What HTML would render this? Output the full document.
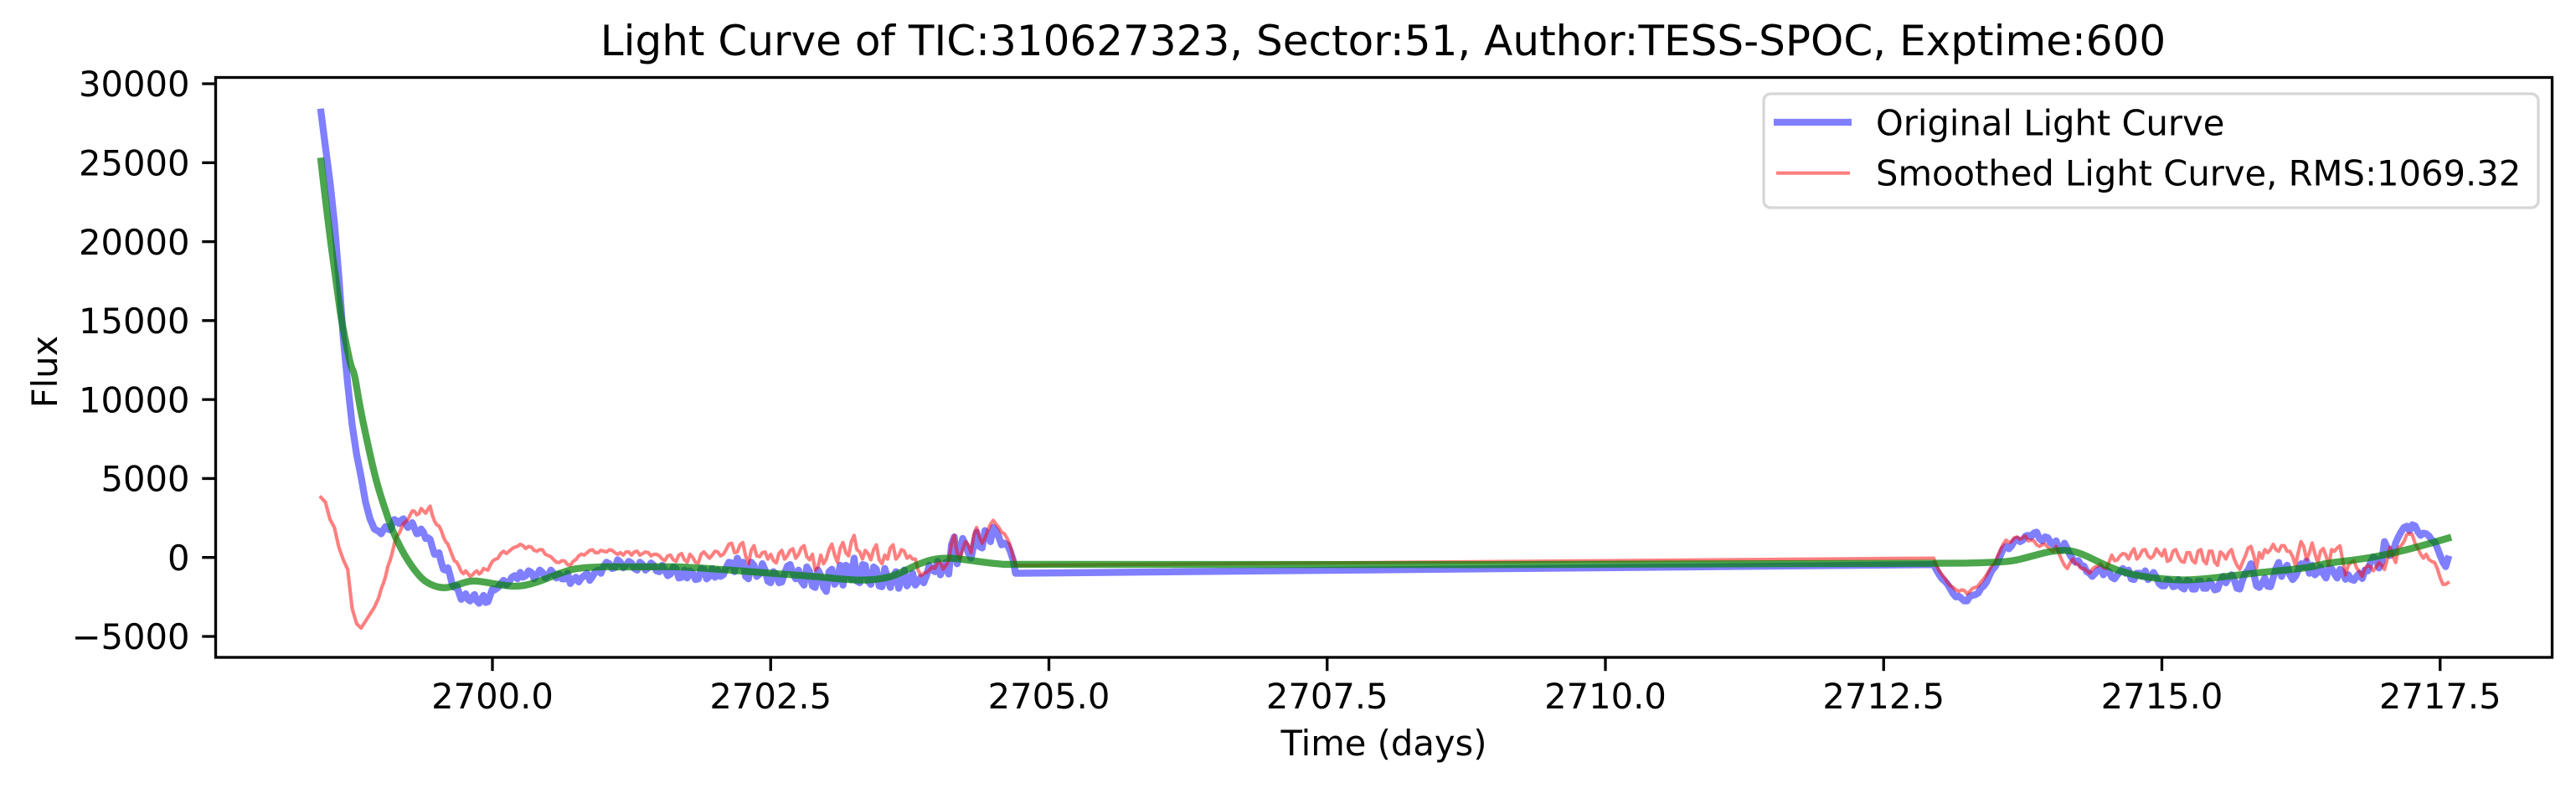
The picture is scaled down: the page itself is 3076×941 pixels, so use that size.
<!DOCTYPE html>
<html lang="en">
<head>
<meta charset="utf-8">
<title>Light Curve of TIC:310627323</title>
<style>
html,body{margin:0;padding:0;background:#fff;}
svg{display:block;}
text{font-family:"DejaVu Sans",sans-serif;fill:#000;}
</style>
</head>
<body>
<svg id="chart" xmlns="http://www.w3.org/2000/svg" width="3076" height="941" viewBox="0 0 3076 941">
  <rect x="0" y="0" width="3076" height="941" fill="#fff"/>
  <g id="marks"></g>
  <rect x="257.5" y="92.5" width="2790" height="692.5" fill="none" stroke="#000" stroke-width="3.33"/>
  <g id="ticks"></g>
  <text x="1651.5" y="66" font-size="50" text-anchor="middle">Light Curve of TIC:310627323, Sector:51, Author:TESS-SPOC, Exptime:600</text>
  <text x="1652.5" y="902" font-size="41.67" text-anchor="middle">Time (days)</text>
  <text transform="translate(68,444) rotate(-90)" font-size="41.67" text-anchor="middle">Flux</text>
  <g>
    <rect x="2106" y="112" width="925" height="136" rx="8.3" ry="8.3" fill="#fff" fill-opacity="0.8" stroke="#ccc" stroke-opacity="0.8" stroke-width="3.33"/>
    <line x1="2118" y1="146" x2="2211" y2="146" stroke="#0000ff" stroke-opacity="0.5" stroke-width="8.33"/>
    <text x="2240" y="161.5" font-size="41.67">Original Light Curve</text>
    <line x1="2121" y1="206.7" x2="2209" y2="206.7" stroke="#ff0000" stroke-opacity="0.5" stroke-width="4.17"/>
    <text x="2240" y="221.7" font-size="41.67">Smoothed Light Curve, RMS:1069.32</text>
  </g>
</svg>
<script>
const xTickValues = [2700, 2702.5, 2705, 2707.5, 2710, 2712.5, 2715, 2717.5];
const xTickLabels = ["2700.0", "2702.5", "2705.0", "2707.5", "2710.0", "2712.5", "2715.0", "2717.5"];
const yTickValues = [-5000, 0, 5000, 10000, 15000, 20000, 25000, 30000];
const yTickLabels = ["\u22125000", "0", "5000", "10000", "15000", "20000", "25000", "30000"];

const times = [
2698.46,2698.50,2698.54,2698.58,2698.62,2698.66,2698.70,2698.74,2698.78,2698.82,
2698.86,2698.90,2698.94,2698.98,2699.02,2699.06,2699.10,2699.14,2699.18,2699.22,
2699.26,2699.30,2699.34,2699.38,2699.42,2699.46,2699.50,2699.54,2699.58,2699.62,
2699.66,2699.70,2699.74,2699.78,2699.82,2699.86,2699.90,2699.94,2699.98,2700.02,
2700.05,2700.10,2700.15,2700.20,2700.25,2700.30,2700.35,2700.40,2700.45,2700.50,
2700.55,2700.60,2700.65,2700.70,2700.75,2700.80,2700.85,2700.90,2700.95,2701.00,
2701.05,2701.10,2701.15,2701.20,2701.25,2701.30,2701.35,2701.40,2701.45,2701.50,
2701.55,2701.60,2701.65,2701.70,2701.75,2701.80,2701.85,2701.90,2701.95,2702.00,
2702.05,2702.10,2702.15,2702.20,2702.25,2702.30,2702.35,2702.40,2702.45,2702.50,
2702.55,2702.60,2702.65,2702.70,2702.75,2702.80,2702.85,2702.90,2702.95,2703.00,
2703.05,2703.10,2703.15,2703.20,2703.25,2703.30,2703.35,2703.40,2703.45,2703.50,
2703.55,2703.60,2703.65,2703.70,2703.75,2703.80,2703.85,2703.90,2703.95,2704.00,
2704.05,2704.10,2704.15,2704.20,2704.25,2704.30,2704.35,2704.40,2704.45,2704.50,
2704.55,2704.60,2704.65,2704.68,2704.70,
2712.95,2713.00,2713.05,2713.10,2713.15,2713.20,2713.25,2713.30,2713.35,2713.40,
2713.45,2713.50,2713.55,2713.60,2713.65,2713.70,2713.75,2713.80,2713.85,2713.90,
2713.95,2714.00,2714.05,2714.10,2714.15,2714.20,2714.25,2714.30,2714.35,2714.40,
2714.45,2714.50,2714.55,2714.60,2714.65,2714.70,2714.75,2714.80,2714.85,2714.90,
2714.95,2715.00,2715.05,2715.10,2715.15,2715.20,2715.25,2715.30,2715.35,2715.40,
2715.45,2715.50,2715.55,2715.60,2715.65,2715.70,2715.75,2715.80,2715.85,2715.90,
2715.95,2716.00,2716.05,2716.10,2716.15,2716.20,2716.25,2716.30,2716.35,2716.40,
2716.45,2716.50,2716.55,2716.60,2716.65,2716.70,2716.75,2716.80,2716.85,2716.90,
2716.95,2717.00,2717.05,2717.10,2717.15,2717.20,2717.25,2717.30,2717.35,2717.40,
2717.45,2717.50,2717.55,2717.57
];

const originalFlux = [
28200,26000,23800,21200,17800,13900,11000,8400,6500,5100,
3500,2450,1800,1650,1750,1800,2100,2300,2350,2150,
2050,1850,1550,1600,1250,650,200,-300,-800,-1150,
-1900,-2250,-2500,-2650,-2500,-2750,-2650,-2850,-2400,-2050,
-1900,-1450,-1550,-1150,-950,-1150,-950,-1100,-950,-1150,
-1000,-1050,-1350,-1650,-1250,-1300,-1000,-1200,-800,-550,
-400,-650,-300,-500,-350,-800,-450,-650,-500,-900,
-800,-1050,-700,-1250,-1300,-1000,-1350,-750,-1200,-1250,
-1200,-650,-350,-50,-300,-1350,-500,-1050,-800,-1600,
-1100,-1550,-550,-1000,-800,-1750,-900,-1900,-1150,-2150,
-750,-1400,-1750,-600,-50,-1600,-500,-1700,-750,-1850,
-1300,-1250,-1950,-800,-1500,-1750,-1250,-1150,-800,-250,
-750,-1050,1300,400,850,-50,1600,600,1500,1900,
1300,900,450,-200,-1000,
-450,-1100,-1500,-2000,-2500,-2600,-2750,-2400,-2250,-1800,
-1150,-600,150,700,750,1150,1100,1400,1550,1200,
1300,950,1050,450,550,-100,-200,-550,-1000,-1000,
-700,-800,-1250,-1100,-700,-800,-1400,-1000,-850,-1200,
-1250,-1800,-1400,-1850,-1400,-2000,-1500,-2000,-1500,-1950,
-1700,-2000,-1200,-1300,-1400,-2000,-1000,-400,-1800,-1640,
-1820,-1290,-320,-760,-1100,-1200,-400,-230,-500,-940,
-1030,-670,-1030,-760,-1380,-1380,-1200,-1330,-850,30,
-670,1000,120,920,1630,1980,2070,1630,1540,1360,
1000,120,-580,-100
];

const smoothedFlux = [
3800,3500,2420,1900,650,-140,-760,-3240,-4200,-4470,
-4030,-3590,-3150,-2530,-1640,-580,300,1360,1800,2250,
2690,2920,2780,2950,3040,2690,2070,1715,1000,480,
-230,-580,-1030,-1030,-1110,-850,-940,-760,-500,-140,
-50,390,390,650,830,570,650,390,480,120,
-140,-320,-230,-500,-140,210,300,480,300,390,
480,300,300,350,150,400,250,300,200,100,
-200,150,-250,250,-300,0,-350,350,-50,400,
100,500,900,350,950,-400,750,50,350,200,
-350,450,100,550,200,750,-150,-800,150,-100,
850,-300,950,100,1400,350,450,-150,800,-400,
-100,800,100,400,100,-100,-1150,-950,-600,-350,
-750,-200,1400,-100,1000,300,1900,900,1700,2350,
1900,1500,800,0,-500,
-50,-850,-1300,-1800,-2050,-2050,-2300,-1950,-1800,-1350,
-800,-350,500,1100,1000,1300,1250,1050,1050,700,
850,500,700,-150,-700,-100,-450,-700,-1000,-600,
-400,-700,150,-150,250,-100,550,100,500,-50,
550,100,-250,400,50,-300,300,-350,500,-400,
400,-500,200,300,-100,-750,100,700,-650,-50,
300,830,390,740,390,-500,1000,-140,920,-320,
570,-500,390,740,-1110,-320,-670,-1200,-500,-850,
-320,-760,650,-320,740,1450,1450,570,-50,-140,
-320,-1290,-1700,-1600
];

const midTimes = [
2699.00,2699.04,2699.08,2699.12,2699.16,2699.20,2699.24,2699.28,2699.32,2699.36,
2699.40,2699.44,2699.48,2699.52,2699.56,2699.60,2699.64,2699.68,2699.72,2699.76,
2699.80,2699.84,2699.88,2699.92,2699.96,2700.00,
2700.075,2700.125,2700.175,2700.225,2700.275,2700.325,2700.375,2700.425,2700.475,2700.525,
2700.575,2700.625,2700.675,2700.725,2700.775,2700.825,2700.875,2700.925,2700.975,2701.025,
2701.075,2701.125,
2701.175,2701.225,2701.275,2701.325,2701.375,2701.425,2701.475,2701.525,2701.575,2701.625,
2701.675,2701.725,2701.775,2701.825,2701.875,2701.925,2701.975,2702.025,
2702.075,2702.125,2702.175,2702.225,2702.275,2702.325,2702.375,2702.425,2702.475,2702.525,
2702.575,2702.625,2702.675,2702.725,2702.775,2702.825,2702.875,2702.925,2702.975,2703.025,
2703.075,2703.125,2703.175,2703.225,2703.275,2703.325,2703.375,2703.425,2703.475,2703.525,
2703.575,2703.625,2703.675,2703.725,2703.775,2703.825,2703.875,2703.925,2703.975,2704.025,
2704.075,2704.125,2704.175,2704.225,2704.275,2704.325,2704.375,2704.425,2704.475,2704.525,
2704.575,2704.625,
2712.975,
2713.025,2713.075,2713.125,2713.175,2713.225,2713.275,2713.325,2713.375,2713.425,2713.475,
2713.525,2713.575,2713.625,2713.675,2713.725,2713.775,2713.825,2713.875,2713.925,2713.975,2714.025,
2714.075,2714.125,2714.175,2714.225,2714.275,2714.325,2714.375,2714.425,2714.475,2714.525,
2714.575,2714.625,2714.675,2714.725,2714.775,2714.825,2714.875,2714.925,2714.975,2715.025,
2715.075,2715.125,2715.175,2715.225,2715.275,2715.325,2715.375,2715.425,2715.475,2715.525,
2715.575,2715.625,2715.675,2715.725,2715.775,2715.825,2715.875,2715.925,2715.975,2716.025,
2716.075,2716.125,2716.175,2716.225,2716.275,2716.325,2716.375,2716.425,2716.475,2716.525,
2716.575,2716.625,2716.675,2716.725,2716.775,2716.825,2716.875,2716.925,2716.975,2717.025,
2717.075,2717.125,2717.175,2717.225,2717.275,2717.325,2717.375,2717.425,2717.475,2717.525
];

const originalMid = [
1500,1950,1750,2400,2150,2450,1900,2200,1500,1800,
1200,1150,200,300,-750,-650,-1750,-1800,-2650,-2300,
-2750,-2350,-2900,-2400,-2800,-2000,
-1650,-1750,-1250,-1350,-1250,-850,-1350,-800,-1300,-800,
-1300,-1350,-1000,-1400,-1550,-1150,-1450,-900,-1000,-300,
-700,-150,
-650,-250,-700,-300,-800,-350,-850,-500,-1150,-600,
-1300,-800,-850,-1400,-700,-1350,-700,-800,
-1100,-300,-900,-500,-1200,-300,-1200,-400,-1500,-900,
-1600,-1000,-450,-1350,-1500,-600,-1800,-800,-1900,-900,
-1700,-500,-500,-1400,-1500,-450,-1500,-600,-1800,-700,
-1900,-900,-1400,-1800,-1000,-1500,-1600,-500,-900,-1100,
-300,800,-400,1200,300,800,700,1700,1000,1700,
800,800,
-800,
-1350,-1700,-2300,-2450,-2750,-2450,-2350,-1950,-1550,-800,
-250,550,550,1050,1000,1350,1300,1600,1050,1250,800,
500,900,150,-300,-500,-900,-1200,-800,-1100,-900,
-1350,-900,-1000,-1350,-1000,-1200,-1400,-950,-1650,-1800,
-1500,-1800,-1900,-1450,-2000,-1500,-1950,-1500,-2050,-1500,
-1600,-1100,-1950,-1400,-800,-1000,-1900,-1300,-1850,-700,
-1200,-500,-1400,-800,-600,-1000,-1100,-600,-1300,-700,
-1300,-900,-1100,-1450,-1000,-800,-300,-100,-300,600,
300,1300,1900,1700,2000,1400,1500,1100,600,-300
];

const smoothedMid = [
-2000,-1200,-200,900,1500,2150,2400,2950,2700,3100,
2800,3250,2300,2000,1300,850,100,-300,-900,-850,
-1200,-950,-1050,-700,-800,-250,
250,250,550,700,750,700,450,500,200,50,
-300,-200,-450,-250,100,150,450,300,450,350,
450,200,
150,350,350,150,350,100,200,-100,100,-150,
150,-150,200,-300,200,150,150,350,
200,850,300,800,100,450,100,300,-100,-200,
250,-100,450,-50,600,50,200,-600,-400,500,
150,600,300,1000,500,-100,250,500,-150,150,
600,-100,500,-50,-100,-800,-1000,-800,-700,-300,
-500,900,300,500,800,1400,1300,1200,2100,2100,
1600,1200,
-500,
-1100,-1600,-1900,-2150,-2100,-2150,-1900,-1550,-1100,-500,
100,850,950,1250,1150,1350,1100,800,800,650,350,
250,-500,-350,-400,-700,-850,-750,-550,-650,-300,
-200,100,200,300,-100,450,100,100,300,500,
-150,500,-250,300,-200,400,-200,400,-300,350,
-100,500,-500,-300,600,150,300,500,500,500,
750,400,50,300,700,300,250,400,100,500,
600,-200,-500,-200,-900,-700,-600,-600,-500,-100,
100,600,1000,1500,900,200,200,-250,-700,-1700
];

const trendTimes = [
2698.46,2698.53,2698.60,2698.64,2698.68,2698.73,2698.76,2698.81,2698.89,2698.96,
2699.04,2699.11,2699.21,2699.31,2699.41,2699.56,2699.69,2699.81,2699.94,2700.09,
2700.24,2700.41,2700.59,2700.76,2701.04,2701.14,2701.29,2701.64,2701.89,2702.39,
2702.89,2703.23,2703.40,2703.55,2703.68,2703.80,2703.95,2704.10,2704.25,2704.48,
2704.70,2712.98,2713.48,2713.66,2713.81,2713.99,2714.16,2714.29,2714.44,2714.61,
2714.81,2715.06,2715.31,2715.89,2716.04,2716.34,2716.47,2716.79,2717.04,2717.29,2717.57
];

const trendFlux = [
25100,20820,17270,15150,13720,12050,11700,9490,6840,4720,
2950,1540,130,-920,-1640,-1990,-1720,-1450,-1560,-1770,
-1850,-1560,-1030,-660,-580,-600,-600,-580,-670,-940,
-1200,-1430,-1430,-1290,-940,-500,-110,-20,-140,-370,
-500,-400,-320,-230,35,390,480,210,-320,-850,
-1200,-1410,-1430,-940,-850,-620,-370,-110,210,650,1220
];

const svgNS = "http://www.w3.org/2000/svg";
const plotLeft = 257.5, plotRight = 3047.5, plotBottom = 785;

function xScale(t) { return 588 + (t - 2700) * 132.9; }
function yScale(v) { return 665.7 - v * 0.018857; }

function toPoints(ts, vs) {
  const n = Math.min(ts.length, vs.length);
  const pts = [];
  for (let i = 0; i < n; i++) pts.push([ts[i], vs[i]]);
  return pts;
}

function buildNoisyPath(ts, vs, extraTs, extraVs) {
  const pts = toPoints(ts, vs).concat(toPoints(extraTs, extraVs));
  pts.sort(function (a, b) { return a[0] - b[0]; });
  return pts.map(function (p, i) {
    return (i ? "L" : "M") + xScale(p[0]).toFixed(1) + " " + yScale(p[1]).toFixed(1);
  }).join(" ");
}

function buildSmoothPath(ts, vs) {
  const pts = toPoints(ts, vs).map(function (p) { return [xScale(p[0]), yScale(p[1])]; });
  let d = "M" + pts[0][0].toFixed(1) + " " + pts[0][1].toFixed(1);
  for (let i = 1; i < pts.length - 1; i++) {
    const mx = (pts[i][0] + pts[i + 1][0]) / 2;
    const my = (pts[i][1] + pts[i + 1][1]) / 2;
    d += " Q" + pts[i][0].toFixed(1) + " " + pts[i][1].toFixed(1) + " " + mx.toFixed(1) + " " + my.toFixed(1);
  }
  const last = pts[pts.length - 1];
  d += " L" + last[0].toFixed(1) + " " + last[1].toFixed(1);
  return d;
}

const marks = document.getElementById("marks");

const originalPath = document.createElementNS(svgNS, "path");


originalPath.setAttribute("d", buildNoisyPath(times, originalFlux, midTimes, originalMid));
originalPath.setAttribute("fill", "none");
originalPath.setAttribute("stroke", "#0000ff");
originalPath.setAttribute("stroke-opacity", "0.5");
originalPath.setAttribute("stroke-width", "8.33");
originalPath.setAttribute("stroke-linejoin", "round");
originalPath.setAttribute("stroke-linecap", "square");
marks.appendChild(originalPath);

const smoothedPath = document.createElementNS(svgNS, "path");


smoothedPath.setAttribute("d", buildNoisyPath(times, smoothedFlux, midTimes, smoothedMid));
smoothedPath.setAttribute("fill", "none");
smoothedPath.setAttribute("stroke", "#ff0000");
smoothedPath.setAttribute("stroke-opacity", "0.5");
smoothedPath.setAttribute("stroke-width", "4.17");
smoothedPath.setAttribute("stroke-linejoin", "round");
smoothedPath.setAttribute("stroke-linecap", "square");
marks.appendChild(smoothedPath);

const trendPath = document.createElementNS(svgNS, "path");


trendPath.setAttribute("d", buildSmoothPath(trendTimes, trendFlux));
trendPath.setAttribute("fill", "none");
trendPath.setAttribute("stroke", "#008000");
trendPath.setAttribute("stroke-opacity", "0.7");
trendPath.setAttribute("stroke-width", "8.33");
trendPath.setAttribute("stroke-linejoin", "round");
trendPath.setAttribute("stroke-linecap", "square");
marks.appendChild(trendPath);

const ticksGroup = document.getElementById("ticks");

xTickValues.forEach(function (value, i) {
  const x = xScale(value);
  const tick = document.createElementNS(svgNS, "line");
  
  
  tick.setAttribute("x1", x);
  tick.setAttribute("x2", x);
  tick.setAttribute("y1", plotBottom);
  tick.setAttribute("y2", plotBottom + 16.2);
  tick.setAttribute("stroke", "#000");
  tick.setAttribute("stroke-width", "3.33");
  ticksGroup.appendChild(tick);
  const label = document.createElementNS(svgNS, "text");
  
  
  label.setAttribute("x", x);
  label.setAttribute("y", 846);
  label.setAttribute("font-size", "41.67");
  label.setAttribute("text-anchor", "middle");
  label.textContent = xTickLabels[i];
  ticksGroup.appendChild(label);
});

yTickValues.forEach(function (value, i) {
  const y = yScale(value);
  const tick = document.createElementNS(svgNS, "line");
  
  
  tick.setAttribute("x1", plotLeft - 16.2);
  tick.setAttribute("x2", plotLeft);
  tick.setAttribute("y1", y);
  tick.setAttribute("y2", y);
  tick.setAttribute("stroke", "#000");
  tick.setAttribute("stroke-width", "3.33");
  ticksGroup.appendChild(tick);
  const label = document.createElementNS(svgNS, "text");
  
  
  label.setAttribute("x", 226.5);
  label.setAttribute("y", y + 15.2);
  label.setAttribute("font-size", "41.67");
  label.setAttribute("text-anchor", "end");
  label.textContent = yTickLabels[i];
  ticksGroup.appendChild(label);
});
</script>
</body>
</html>
